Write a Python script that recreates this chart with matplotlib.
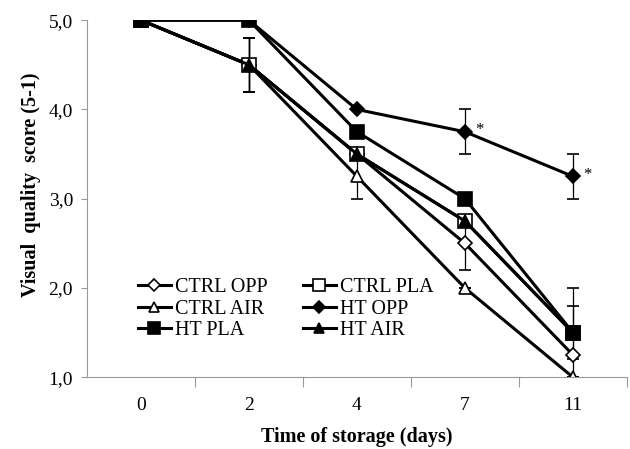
import matplotlib.pyplot as plt
from matplotlib.lines import Line2D

plt.rcParams['font.family'] = ['Liberation Serif', 'DejaVu Serif']

days = ['0', '2', '4', '7', '11']

ctrl_opp = [5.0, 4.5, 3.5, 2.5, 1.25]
ctrl_pla = [5.0, 4.5, 3.5, 2.75, 1.5]
ctrl_air = [5.0, 4.5, 3.25, 2.0, 1.0]
ht_opp = [5.0, 5.0, 4.0, 3.75, 3.25]
ht_pla = [5.0, 5.0, 3.75, 3.0, 1.5]
ht_air = [5.0, 4.5, 3.5, 2.75, 1.5]

# error bars (only those visible in the figure)
ctrl_opp_err = [0, 0.3, 0, 0.3, 0]
ctrl_pla_err = [0, 0.3, 0, 0, 0.3]
ctrl_air_err = [0, 0.3, 0.25, 0, 0]
ht_opp_err = [0, 0, 0, 0.25, 0.25]
ht_pla_err = [0, 0, 0, 0, 0.5]
ht_air_err = [0, 0.3, 0, 0, 0]

signif = [False, False, False, True, True]

fig = plt.figure(figsize=(6.3, 4.49), dpi=100)
ax = fig.add_axes([0.138, 0.160, 0.857, 0.795])

x = list(range(len(days)))

styles = {
    'CTRL OPP': ('D', 'white', 7),
    'CTRL PLA': ('s', 'white', 10),
    'CTRL AIR': ('^', 'white', 9),
    'HT OPP': ('D', 'black', 7),
    'HT PLA': ('s', 'black', 10),
    'HT AIR': ('^', 'black', 8),
}

# drawing order (last on top)
series = [
    ('CTRL AIR', ctrl_air, ctrl_air_err),
    ('CTRL OPP', ctrl_opp, ctrl_opp_err),
    ('CTRL PLA', ctrl_pla, ctrl_pla_err),
    ('HT AIR', ht_air, ht_air_err),
    ('HT OPP', ht_opp, ht_opp_err),
    ('HT PLA', ht_pla, ht_pla_err),
]

for label, vals, err in series:
    mk, fc, ms = styles[label]
    ax.errorbar(x, vals, yerr=err, color='black', lw=2.2, marker=mk,
                markerfacecolor=fc, markeredgecolor='black', markeredgewidth=1.2,
                markersize=ms, ecolor='black', elinewidth=0.9, capsize=4,
                capthick=0.9)

for i, s in enumerate(signif):
    if s:
        ax.text(x[i] + 0.13, ht_opp[i] + 0.02, '*', fontsize=12, ha='center', va='center')

ax.set_xlim(-0.5, len(days) - 0.5)
ax.set_ylim(1.0, 5.0)
ax.set_xticks([i - 0.5 for i in range(1, len(days) + 1)])
ax.set_xticklabels([])
ax.set_xticks(x, minor=True)
ax.set_xticklabels(days, minor=True)
ax.tick_params(axis='x', which='minor', length=0, pad=14, labelsize=14)
ax.tick_params(axis='x', which='major', length=7, color='#999999')
ax.set_yticks([1, 2, 3, 4, 5])
ax.set_yticklabels(['1,0', '2,0', '3,0', '4,0', '5,0'])
ax.tick_params(axis='y', length=4, color='#999999', labelsize=14, pad=6)

for side in ['top', 'right']:
    ax.spines[side].set_visible(False)
for side in ['left', 'bottom']:
    ax.spines[side].set_color('#999999')
    ax.spines[side].set_clip_on(False)

ax.set_xlabel('Time of storage (days)', fontsize=14.5, fontweight='bold', labelpad=10)
ax.set_ylabel('Visual  quality  score (5-1)', fontsize=14.5, fontweight='bold')
ax.yaxis.set_label_coords(-0.085, 0.54)

legend_order = ['CTRL OPP', 'CTRL AIR', 'HT PLA', 'CTRL PLA', 'HT OPP', 'HT AIR']
handles = []
for name in legend_order:
    mk, fc, ms = styles[name]
    handles.append(Line2D([], [], color='black', lw=2.2, marker=mk, markerfacecolor=fc,
                          markeredgecolor='black', markeredgewidth=1.2, markersize=ms * 0.85))

ax.legend(handles, legend_order, ncol=2, frameon=False, loc='upper left',
          bbox_to_anchor=(0.075, 0.305), fontsize=14.5, handlelength=1.65,
          handletextpad=0.2, columnspacing=1.75, labelspacing=0.12, borderpad=0)

fig.savefig('out.png', dpi=100)
